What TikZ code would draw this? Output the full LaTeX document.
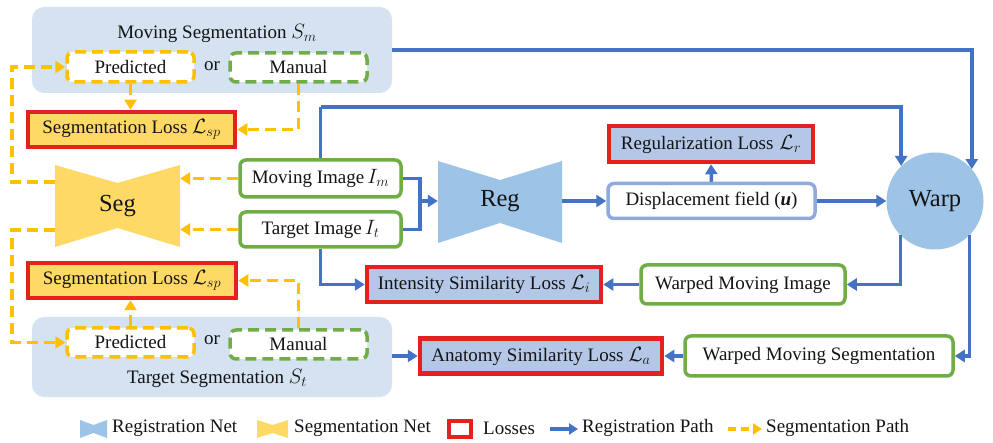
\documentclass[tikz,border=0pt]{standalone}
\usepackage{fontspec}
\setmainfont{Liberation Serif}
\usetikzlibrary{arrows.meta,calc}
\definecolor{bgblue}{RGB}{212,226,242}
\definecolor{netblue}{RGB}{157,195,230}
\definecolor{lossblue}{RGB}{180,199,231}
\definecolor{segyel}{RGB}{255,217,102}
\definecolor{lossred}{RGB}{228,32,32}
\definecolor{grn}{RGB}{112,173,71}
\definecolor{org}{RGB}{255,192,0}
\definecolor{pathblue}{RGB}{68,114,196}
\definecolor{dispblue}{RGB}{143,170,220}
\definecolor{txt}{RGB}{20,20,20}
\newcommand{\mymath}[1]{{\fontsize{22}{24}\selectfont$#1$}}
\tikzset{
  base/.style={inner sep=0pt, align=center, text=txt},
  gbox/.style={base, draw=grn, line width=3.5pt, fill=white, rounded corners=6pt},
  dbox/.style={base, draw=dispblue, line width=3.5pt, fill=white, rounded corners=6pt},
  lossbox/.style={base, draw=lossred, line width=4.5pt, fill=lossblue},
  seglossbox/.style={base, draw=lossred, line width=4.5pt, fill=segyel},
  predbox/.style={base, draw=org, line width=3.5pt, dash pattern=on 11pt off 6pt, fill=white, rounded corners=6pt},
  manbox/.style={base, draw=grn, line width=3.5pt, dash pattern=on 11pt off 6pt, fill=white, rounded corners=6pt},
  bgbox/.style={base, fill=bgblue, rounded corners=12pt},
  bigtxt/.style={base, font=\fontsize{24.5}{28}\selectfont},
  bline/.style={draw=pathblue, line width=3.5pt},
  barrow/.style={bline, -{Triangle[length=10pt,width=12pt]}},
  oline/.style={draw=org, line width=3.5pt, dash pattern=on 11pt off 6pt},
  oarrow/.style={oline, -{Triangle[length=10pt,width=12pt]}},
  legtxt/.style={base, anchor=west},
}
\begin{document}
\begin{tikzpicture}[x=1pt,y=-1pt,font=\fontsize{19}{22}\selectfont]
\useasboundingbox (0,0) rectangle (993,443);

% background segmentation boxes
\node[bgbox, minimum width=360, minimum height=86] (msbox) at (212,50) {};
\node[base] (mstitle) at (217,33) {Moving Segmentation \mymath{S_m}};
\node[bgbox, minimum width=360, minimum height=80] (tsbox) at (212,357) {};
\node[base] (tstitle) at (217,378) {Target Segmentation \mymath{S_t}};

% predicted / manual
\node[predbox, minimum width=127, minimum height=30] (predT) at (130.5,67) {Predicted};
\node[base] (orT) at (212,66) {or};
\node[manbox, minimum width=137, minimum height=29] (manT) at (298.5,67.5) {Manual};
\node[predbox, minimum width=127, minimum height=29] (predB) at (130.5,342.5) {Predicted};
\node[base] (orB) at (212,340) {or};
\node[manbox, minimum width=137, minimum height=29] (manB) at (298.5,344.5) {Manual};

% segmentation losses
\node[seglossbox, minimum width=207, minimum height=35] (slT) at (131.5,129.5) {Segmentation Loss \mymath{\mathcal{L}_{sp}}};
\node[seglossbox, minimum width=208, minimum height=35] (slB) at (132,280.5) {Segmentation Loss \mymath{\mathcal{L}_{sp}}};

% Seg network
\fill[segyel] (55,165) -- (117.5,183) -- (180,165) -- (180,247) -- (117.5,228) -- (55,247) -- cycle;
\node[bigtxt, minimum width=125, minimum height=82] (seg) at (117.5,206) {Seg};

% images
\node[gbox, minimum width=161, minimum height=37] (mi) at (320.5,178.5) {Moving Image\,\mymath{I_m}};
\node[gbox, minimum width=161, minimum height=35] (ti) at (320.5,229.5) {Target Image\,\mymath{I_t}};

% Reg network
\fill[netblue] (438,161) -- (500,180) -- (562,161) -- (562,243) -- (500,223) -- (438,243) -- cycle;
\node[bigtxt, minimum width=124, minimum height=82] (reg) at (500,201) {Reg};

% displacement & regularization
\node[dbox, minimum width=207, minimum height=35] (disp) at (711.5,201) {Displacement field (\textbf{\textit{u}})};
\node[lossbox, minimum width=204, minimum height=36] (rl) at (711,144) {Regularization Loss\hspace{6pt}\mymath{\mathcal{L}_r}};

% warp
\node[bigtxt, circle, fill=netblue, minimum size=97] (warp) at (935,201) {Warp};

% lower row
\node[lossbox, minimum width=234, minimum height=35] (il) at (484,284.5) {Intensity Similarity Loss \mymath{\mathcal{L}_i}};
\node[gbox, minimum width=204, minimum height=39] (wmi) at (743,284.5) {Warped Moving Image};
\node[lossbox, minimum width=242, minimum height=35] (al) at (541,356) {Anatomy Similarity Loss \mymath{\mathcal{L}_a}};
\node[gbox, minimum width=268, minimum height=40] (wms) at (819,356) {Warped Moving Segmentation};

% helper coordinates
\coordinate (j) at (420,201);
\coordinate (top2) at (320.5,107);
\coordinate (segL1) at (55,182);
\coordinate (segL2) at (55,230);
\coordinate (lft) at (12,0);

% registration paths
\draw[barrow] (msbox.east) -| (warp.41);
\draw[bline] (mi.north) -- (top2);
\draw[barrow] (top2) -| (warp.134);
\draw[bline] (mi.east) -| (j);
\draw[bline] (ti.east) -| (j);
\draw[barrow] (j) -- (reg.west);
\draw[barrow] (reg.east) -- (disp.west);
\draw[barrow] (disp.north) -- (rl.south);
\draw[barrow] (disp.east) -- (warp.west);
\draw[barrow] (warp.225) |- (wmi.east);
\draw[barrow] (warp.-45) |- (wms.east);
\draw[barrow] (wmi.west) -- (il.east);
\draw[barrow] (wms.west) -- (al.east);
\draw[barrow] (ti.south) |- (il.west);
\draw[barrow] (tsbox.east |- al.west) -- (al.west);

% segmentation paths
\draw[oarrow] (mi.west) -- (mi.west -| seg.east);
\draw[oarrow] (ti.west) -- (ti.west -| seg.east);
\draw[oarrow] (segL1) -- (segL1 -| lft) |- (predT.west);
\draw[oarrow] (segL2) -- (segL2 -| lft) |- (predB.west);
\draw[oarrow] (predT.south) -- (predT.south |- slT.north);
\draw[oarrow] (manT.south) |- (slT.east);
\draw[oarrow] (predB.north) -- (predB.north |- slB.south);
\draw[oarrow] (manB.north) |- (slB.east);

% legend
\fill[netblue] (80,420) -- (93.5,425) -- (107,420) -- (107,438) -- (93.5,433) -- (80,438) -- cycle;
\node[legtxt] (lg1) at (112,428) {Registration Net};
\fill[segyel] (257,420) -- (272.5,425) -- (288,420) -- (288,438) -- (272.5,433) -- (257,438) -- cycle;
\node[legtxt] (lg2) at (294,428) {Segmentation Net};
\draw[lossred, line width=4.5pt, fill=white] (449,421) rectangle (471,437);
\node[legtxt] (lg3) at (483,428) {Losses};
\coordinate (la1) at (550,429);
\coordinate (la2) at (578,429);
\draw[bline, -{Triangle[length=9pt,width=11pt]}] (la1) -- (la2);
\node[legtxt] (lg4) at (582,428) {Registration Path};
\coordinate (lb1) at (728,429);
\coordinate (lb2) at (762,429);
\draw[draw=org, line width=3.5pt, dash pattern=on 8pt off 5pt, -{Triangle[length=9pt,width=11pt]}] (lb1) -- (lb2);
\node[legtxt] (lg5) at (766,428) {Segmentation Path};
\end{tikzpicture}
\end{document}
